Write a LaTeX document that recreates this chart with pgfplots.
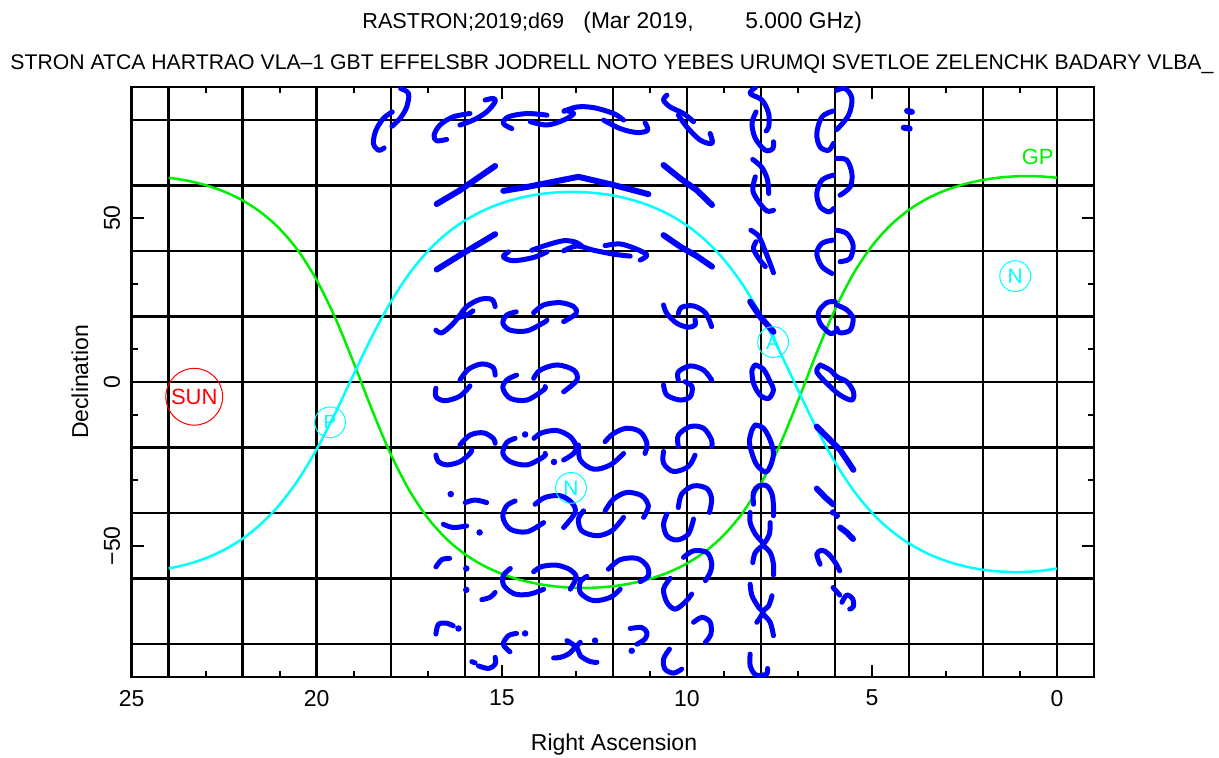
\documentclass[border=0pt]{standalone}
\usepackage{fontspec}
\setmainfont{Liberation Sans}
\usepackage{pgfplots}
\pgfplotsset{compat=1.18}
\definecolor{pblue}{RGB}{0,0,255}
\definecolor{pcyan}{RGB}{0,255,255}
\definecolor{pgreen}{RGB}{0,238,0}
\definecolor{pred}{RGB}{255,0,0}
\pgfplotsset{
  trk/.style={pblue, line width=2.5pt, line cap=round, line join=round, smooth, tension=0.55, mark=none},
  trl/.style={pblue, line width=3pt, line cap=round, line join=round, mark=none},
}
\newcommand{\trk}[1]{\addplot[trk] coordinates {#1};}
\newcommand{\trl}[1]{\addplot[trl] coordinates {#1};}
\newcommand{\dts}[1]{\addplot[only marks, mark=*, mark size=1.4pt, pblue] coordinates {#1};}
\begin{document}
\begin{tikzpicture}
\begin{axis}[
  at={(0,0)}, anchor=south west,
  scale only axis, width=481.15pt, height=295pt,
  x dir=reverse, xmin=-1, xmax=25, ymin=-90, ymax=90,
  xtick={0,5,...,25}, ytick={-50,0,50}, yticklabels={−50,0,50},
  minor x tick num=4, minor y tick num=4,
  major tick length=6pt, minor tick length=3pt,
  tick style={black, line width=1pt},
  extra x ticks={0,2,...,24}, extra x tick labels={},
  extra x tick style={grid=major, major tick length=0pt},
  extra y ticks={-80,-60,...,80}, extra y tick labels={},
  extra y tick style={grid=major, major tick length=0pt},
  major grid style={black, line width=1.25pt},
  axis line style={black, line width=1.25pt},
  /pgf/number format/assume math mode=true,
  ticklabel style={font=\fontsize{11.5}{13}\selectfont},
  xticklabel style={inner xsep=0pt, inner ysep=6.3pt, anchor=north},
  yticklabel style={rotate=90, anchor=south, inner xsep=0pt, inner ysep=5.6pt},
  clip=true,
]
% Galactic plane (green)
\addplot[pgreen, line width=1.25pt, smooth] coordinates {
(24,62.31)(23.5,61.42)(23,60.05)(22.5,58.08)(22,55.37)(21.5,51.68)(21,46.69)(20.5,39.99)
(20,31.05)(19.5,19.54)(19,5.82)(18.5,-8.69)(18,-22.05)(17.5,-33.04)(17,-41.49)(16.5,-47.81)
(16,-52.50)(15.5,-55.98)(15,-58.53)(14.5,-60.37)(14,-61.64)(13.5,-62.43)(13,-62.79)(12.5,-62.75)
(12,-62.31)(11.5,-61.42)(11,-60.05)(10.5,-58.08)(10,-55.37)(9.5,-51.68)(9,-46.69)(8.5,-39.99)
(8,-31.05)(7.5,-19.54)(7,-5.82)(6.5,8.69)(6,22.05)(5.5,33.04)(5,41.49)(4.5,47.81)
(4,52.50)(3.5,55.98)(3,58.53)(2.5,60.37)(2,61.64)(1.5,62.43)(1,62.79)(0.5,62.75)(0,62.31)};
% cyan curve
\addplot[pcyan, line width=1.25pt, smooth] coordinates {
(24,-56.90)(23.5,-55.62)(23,-53.76)(22.5,-51.19)(22,-47.77)(21.5,-43.24)(21,-37.36)(20.5,-29.83)
(20,-20.48)(19.5,-9.49)(19,2.40)(18.5,14.05)(18,24.43)(17.5,33.06)(17,39.90)(16.5,45.20)
(16,49.25)(15.5,52.31)(15,54.58)(14.5,56.20)(14,57.27)(13.5,57.85)(13,57.99)(12.5,57.67)
(12,56.90)(11.5,55.62)(11,53.76)(10.5,51.19)(10,47.77)(9.5,43.24)(9,37.36)(8.5,29.83)
(8,20.48)(7.5,9.49)(7,-2.40)(6.5,-14.05)(6,-24.43)(5.5,-33.06)(5,-39.90)(4.5,-45.20)
(4,-49.25)(3.5,-52.31)(3,-54.58)(2.5,-56.20)(2,-57.27)(1.5,-57.85)(1,-57.99)(0.5,-57.67)(0,-56.90)};
% markers
\addplot[only marks, mark=o, mark size=14.2pt, mark options={draw=pred, line width=0.5pt}] coordinates {(23.31,-4.5)};
\addplot[only marks, mark=o, mark size=7.7pt, mark options={draw=pcyan, line width=0.5pt}] coordinates {(19.64,-12.3)(7.67,12.2)(13.13,-32.3)(1.13,32.3)};
\node[text=pred, font=\fontsize{11}{13}\selectfont] at (axis cs:23.31,-4.5) {SUN};
\node[text=pcyan, font=\fontsize{9.5}{11}\selectfont] at (axis cs:19.64,-12.3) {P};
\node[text=pcyan, font=\fontsize{10.5}{12}\selectfont] at (axis cs:7.67,12.2) {A};
\node[text=pcyan, font=\fontsize{10.5}{12}\selectfont] at (axis cs:13.13,-32.3) {N};
\node[text=pcyan, font=\fontsize{10.5}{12}\selectfont] at (axis cs:1.13,32.3) {N};
\node[text=pgreen, font=\fontsize{11}{13}\selectfont] at (axis cs:0.52,68.6) {GP};
% ---- blue tracks ----
% dec 80
\trk{(17.73,89.5)(17.52,88.0)(17.57,83.9)(17.75,80.4)(17.97,78.0)}
\trk{(17.96,82.4)(18.20,80.4)(18.40,76.8)(18.47,72.8)(18.33,70.7)(18.18,71.4)}
\trk{(15.86,81.9)(16.31,80.9)(16.67,78.4)(16.83,75.3)(16.76,73.6)(16.49,74.0)}
\trk{(16.13,78.4)(15.77,79.9)(15.41,82.4)(15.18,85.5)(15.23,86.5)(15.45,86.0)}
\trk{(14.73,77.3)(14.96,78.9)(14.82,80.9)(14.32,81.9)(13.78,81.4)}
\trk{(14.23,79.4)(13.78,78.4)(13.33,79.9)(13.06,81.9)(13.29,82.9)}
\trk{(13.32,82.6)(12.97,83.9)(12.52,83.7)(11.98,81.9)(11.71,79.9)}
\trk{(12.25,79.9)(11.80,77.3)(11.35,76.1)(11.06,76.8)(11.13,79.1)}
\trk{(10.54,87.5)(10.63,86.0)(10.45,83.9)(10.09,81.9)(9.82,79.4)}
\trk{(10.23,81.4)(10.00,77.8)(9.64,73.8)(9.32,72.8)(9.37,75.8)}
\trk{(8.15,89.8)(8.29,88.0)(7.97,86.0)(7.79,81.9)(7.79,77.8)(7.86,76.6)}
\trk{(8.13,82.4)(8.24,78.9)(8.15,74.3)(7.88,70.7)(7.68,71.2)(7.66,73.3)}
\trk{(5.95,89.0)(5.72,89.5)(5.54,86.5)(5.63,81.4)(5.95,77.0)}
\trk{(6.04,82.7)(6.35,80.9)(6.49,75.8)(6.40,71.7)(6.17,70.7)(6.04,72.8)}
\trl{(4.05,82.7)(3.92,82.4)}
\trl{(4.14,77.6)(3.98,77.3)}
% dec 60
\trl{(16.76,54.3)(16.13,58.5)(15.18,65.9)}
\trl{(14.96,58.3)(14.32,59.5)(13.60,61.1)(12.93,62.6)(11.98,60.1)(11.04,57.3)}
\trl{(10.63,66.2)(10.18,62.1)(9.73,58.5)(9.32,54.0)}
\trk{(8.22,67.9)(7.97,65.4)(7.82,61.6)(7.79,57.5)}
\trk{(8.15,62.6)(8.22,58.5)(8.06,55.0)(7.84,52.2)(7.66,52.4)}
\trk{(5.95,68.2)(5.68,67.7)(5.54,63.6)(5.59,59.5)(5.86,57.0)}
\trk{(6.04,63.1)(6.35,61.6)(6.49,57.5)(6.40,53.5)(6.17,51.9)(6.04,52.9)}
% dec 40
\trl{(16.76,34.3)(16.13,38.7)(15.18,45.1)}
\trk{(14.82,39.7)(14.96,38.2)(14.69,37.0)(14.14,38.0)(13.78,39.7)}
\trk{(14.19,40.2)(13.78,41.8)(13.33,43.1)(13.02,42.7)(12.84,41.5)}
\trk{(13.33,40.0)(12.97,41.5)(12.52,40.2)(11.98,39.0)(11.53,38.4)}
\trk{(12.21,41.6)(11.80,42.1)(11.35,40.5)(11.08,38.7)(11.26,37.2)}
\trl{(10.63,44.8)(10.18,41.3)(9.73,38.4)(9.32,35.2)}
\trk{(8.27,46.3)(8.06,44.5)(7.91,40.7)(7.77,36.7)(7.66,33.3)}
\trk{(8.13,42.8)(8.20,40.7)(8.06,37.7)(7.88,35.2)}
\trk{(5.95,46.3)(5.68,45.3)(5.51,41.8)(5.59,37.7)(5.86,36.7)}
\trk{(6.05,43.3)(6.35,42.3)(6.49,39.2)(6.35,35.2)(6.08,33.1)}
% dec 20
\trk{(15.18,23.0)(15.27,25.2)(15.59,25.2)(15.95,23.0)(16.13,20.4)(16.35,17.4)(16.62,15.0)(16.78,15.8)}
\trk{(16.17,19.7)(15.95,20.4)(15.78,21.7)}
\trk{(14.61,21.4)(14.87,20.4)(14.97,17.9)(14.77,15.8)(14.32,15.6)(13.87,18.1)(13.78,18.9)}
\trk{(14.14,21.1)(13.87,23.5)(13.42,24.2)(13.06,23.0)(12.99,20.9)(13.33,18.4)}
\trk{(10.63,23.5)(10.54,20.9)(10.27,17.9)(9.96,16.7)(9.78,17.4)(9.78,19.1)}
\trk{(10.23,20.9)(10.14,22.8)(9.82,23.2)(9.50,21.1)(9.33,16.9)}
\trl{(8.29,24.5)(8.02,19.9)(7.66,15.3)}
\trk{(5.95,23.5)(5.68,22.0)(5.51,19.4)(5.59,15.8)(5.86,15.0)(5.95,16.4)}
\trk{(5.99,24.5)(6.22,24.2)(6.44,21.4)(6.40,17.9)(6.13,14.8)(5.99,15.3)}
% dec 0
\trk{(16.13,0.6)(15.90,3.9)(15.54,5.5)(15.24,4.5)(15.18,2.1)}
\trk{(16.78,-1.9)(16.78,-4.5)(16.53,-5.7)(16.13,-4.3)(15.86,-1.2)}
\trk{(14.60,2.1)(14.87,0.6)(14.97,-1.9)(14.77,-5.0)(14.32,-5.5)(13.87,-2.4)(13.83,-1.4)}
\trk{(14.14,1.1)(13.96,3.65)(13.51,5.2)(13.06,3.65)(12.97,0.6)(13.33,-3.0)}
\trk{(10.23,0.6)(10.23,3.1)(9.91,4.9)(9.55,3.65)(9.33,0.6)}
\trk{(10.63,-0.9)(10.54,-4.0)(10.18,-5.5)(9.91,-4.5)(9.86,-1.4)(10.05,0.1)}
\trk{(8.15,5.2)(7.93,3.9)(7.75,0.1)(7.66,-2.4)(7.79,-5.0)(8.02,-4.0)(8.20,-0.4)(8.24,3.65)(8.15,5.2)}
\trk{(6.40,5.2)(6.49,3.1)(6.22,-0.4)(5.86,-4.0)(5.54,-5.5)(5.50,-3.0)(5.68,0.1)(5.95,1.6)(6.13,3.65)(6.40,5.2)}
% dec -20
\trk{(16.13,-19.2)(15.86,-16.2)(15.50,-15.5)(15.23,-17.2)(15.18,-18.7)}
\trk{(16.78,-22.3)(16.71,-24.3)(16.49,-25.3)(16.13,-24.3)(15.86,-21.8)(15.81,-20.7)}
\trk{(14.64,-17.2)(14.87,-18.5)(14.97,-21.8)(14.77,-24.3)(14.32,-25.3)(13.87,-22.8)(13.83,-21.8)}
\trk{(14.13,-17.2)(13.92,-15.5)(13.51,-14.8)(13.15,-16.7)(12.99,-19.7)(13.06,-21.8)(13.33,-23.8)}
\dts{(14.37,-16.0)(13.59,-24.4)}
\trk{(12.93,-19.2)(12.88,-23.8)(12.52,-26.6)(12.07,-25.3)(11.71,-21.8)}
\trk{(12.21,-18.2)(11.98,-15.7)(11.62,-14.1)(11.26,-15.2)(11.08,-18.7)(11.13,-21.8)}
\trk{(10.23,-19.7)(10.23,-16.2)(9.91,-13.6)(9.55,-14.1)(9.33,-17.7)(9.33,-19.7)}
\trk{(10.63,-21.2)(10.63,-24.8)(10.36,-27.3)(9.96,-25.8)(9.78,-22.3)}
\trk{(8.15,-13.1)(7.93,-14.1)(7.75,-17.7)(7.66,-21.8)(7.75,-25.8)(7.88,-27.5)(8.11,-25.3)(8.24,-21.8)(8.31,-18.2)(8.24,-14.6)(8.15,-13.1)}
\trl{(6.49,-13.6)(6.13,-17.7)(5.86,-20.7)(5.50,-26.8)}
% dec -40
\dts{(16.38,-34.2)(15.60,-45.9)}
\trk{(15.99,-36.8)(15.72,-36.0)(15.41,-36.8)}
\trk{(16.58,-43.4)(16.31,-44.4)(15.95,-43.9)}
\trk{(14.64,-36.3)(14.87,-37.8)(14.97,-41.3)(14.77,-44.9)(14.32,-45.7)(13.87,-42.9)}
\trk{(14.10,-37.3)(13.83,-35.2)(13.42,-34.7)(13.11,-36.8)(13.02,-39.8)(13.33,-44.4)}
\trk{(12.79,-39.3)(12.93,-41.8)(12.84,-45.4)(12.43,-46.9)(12.03,-45.4)(11.71,-41.3)}
\trk{(12.21,-39.3)(11.98,-35.7)(11.62,-33.7)(11.22,-34.7)(11.04,-37.8)(11.17,-41.3)}
\trk{(10.23,-38.3)(10.14,-34.2)(9.82,-31.7)(9.46,-32.5)(9.33,-35.7)(9.39,-39.8)}
\trk{(10.54,-40.3)(10.63,-43.4)(10.54,-46.9)(10.27,-48.2)(9.96,-46.4)(9.82,-41.8)}
\trk{(8.20,-37.3)(8.20,-33.7)(8.06,-31.7)(7.84,-31.7)(7.70,-34.2)(7.66,-37.8)(7.66,-40.8)}
\trk{(8.29,-39.8)(8.29,-42.9)(8.15,-46.4)(7.95,-49.0)}
\trk{(7.75,-42.9)(7.77,-46.4)(7.93,-49.5)(8.15,-52.0)(8.22,-55.1)}
\trl{(6.49,-32.5)(6.26,-35.2)(6.05,-37.3)}
\dts{(6.05,-39.8)(5.95,-40.8)}
\trl{(5.86,-44.4)(5.68,-45.9)(5.51,-47.9)}
% dec -60
\trk{(16.78,-56.4)(16.62,-54.2)(16.41,-53.8)}
\dts{(15.96,-56.9)(15.96,-63.4)}
\trk{(15.54,-66.4)(15.32,-65.7)(15.18,-64.2)}
\trk{(14.77,-56.9)(14.96,-59.1)(14.94,-62.2)(14.64,-64.7)(14.24,-64.7)(13.87,-63.2)}
\trk{(14.14,-57.9)(13.92,-56.3)(13.51,-55.9)(13.15,-57.3)(12.99,-59.6)(13.15,-63.2)}
\trk{(12.70,-59.3)(12.88,-61.0)(12.87,-64.4)(12.52,-66.7)(12.07,-65.7)(11.80,-63.2)}
\trk{(12.12,-57.1)(11.80,-54.2)(11.35,-53.8)(11.08,-56.1)(11.04,-59.1)(11.26,-60.9)}
\trk{(10.09,-53.5)(9.82,-51.5)(9.46,-52.0)(9.33,-55.1)(9.37,-58.1)(9.50,-60.6)}
\trk{(10.45,-59.9)(10.63,-63.2)(10.54,-67.2)(10.32,-69.3)(10.05,-67.2)(9.87,-64.7)}
\trk{(7.95,-49.8)(7.75,-52.0)(7.66,-55.6)(7.66,-58.9)}
\trk{(8.29,-61.7)(8.24,-65.2)(8.06,-68.8)(7.95,-70.3)(8.11,-73.3)}
\trk{(7.70,-65.2)(7.79,-68.3)(7.95,-70.3)(7.75,-73.3)(7.66,-77.4)}
\trk{(6.40,-55.6)(6.49,-52.5)(6.35,-51.3)(6.17,-52.5)(5.99,-55.1)(5.87,-57.6)}
\trk{(6.05,-62.7)(5.87,-65.0)}
\trk{(5.81,-67.2)(5.68,-65.0)(5.52,-66.2)(5.50,-68.5)(5.60,-69.3)}
% dec -80
\trk{(16.78,-76.9)(16.71,-73.9)(16.49,-73.6)(16.31,-74.4)}
\dts{(16.17,-75.2)(14.37,-76.7)(12.48,-78.9)(11.49,-82.0)}
\trk{(15.81,-85.3)(15.72,-85.7)}
\trk{(15.63,-86.6)(15.36,-87.4)(15.18,-86.1)(15.18,-84.0)}
\trk{(14.78,-82.3)(14.96,-80.0)(14.82,-77.4)(14.60,-76.7)}
\trk{(13.60,-84.2)(13.42,-84.0)(13.20,-83.0)(13.02,-81.0)(12.88,-79.4)}
\trk{(13.24,-78.9)(12.97,-81.0)(12.88,-83.5)(12.61,-85.3)(12.43,-85.5)}
\trk{(11.53,-75.2)(11.22,-74.9)(11.08,-76.4)(11.13,-78.4)(11.35,-80.0)}
\trk{(10.47,-81.5)(10.63,-84.5)(10.59,-87.6)(10.36,-88.8)(10.14,-87.6)}
\trk{(9.50,-79.4)(9.35,-76.9)(9.37,-73.3)(9.59,-71.8)(9.82,-73.3)}
\trk{(8.29,-83.0)(8.29,-86.6)(8.15,-89.3)(7.97,-89.4)(7.84,-89.1)(7.82,-87.4)}
\end{axis}
\node[anchor=base west, inner sep=0pt, font=\fontsize{10.8}{13}\selectfont] at (115.15pt,324pt) {RASTRON;2019;d69};
\node[anchor=base west, inner sep=0pt, font=\fontsize{11.4}{13}\selectfont] at (225.65pt,324pt) {(Mar 2019,};
\node[anchor=base west, inner sep=0pt, font=\fontsize{11.4}{13}\selectfont] at (306.65pt,324pt) {5.000 GHz)};
\node[anchor=base west, inner sep=0pt] at (-60.85pt,303.5pt) {\resizebox{601.5pt}{!}{\fontsize{11}{13}\selectfont STRON ATCA HARTRAO VLA–1 GBT EFFELSBR JODRELL NOTO YEBES URUMQI SVETLOE ZELENCHK BADARY VLBA\_}};
\node[anchor=base, font=\fontsize{11.5}{13}\selectfont] at (241.15pt,-36.5pt) {Right Ascension};
\node[rotate=90, font=\fontsize{11.5}{13}\selectfont] at (-25.85pt,147.5pt) {Declination};
\pgfresetboundingbox
\path[use as bounding box] (-65.85pt,-40pt) rectangle (543.65pt,338.5pt);
\end{tikzpicture}
\end{document}
